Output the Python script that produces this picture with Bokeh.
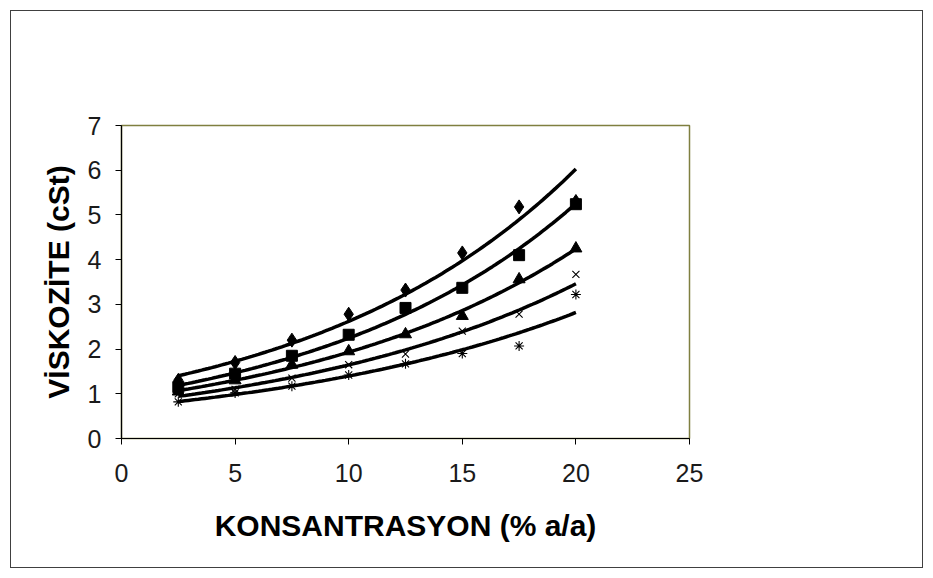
import numpy as np
from bokeh.plotting import figure
from bokeh.models import Range1d, FixedTicker, ColumnDataSource
from bokeh.embed import file_html
from bokeh.resources import INLINE

# Concentration (% a/a) and measured viscosities (cSt) for five series
konsantrasyon = [2.5, 5, 7.5, 10, 12.5, 15, 17.5, 20]
seri_1 = [1.30, 1.70, 2.20, 2.78, 3.32, 4.15, 5.18, 5.30]
seri_2 = [1.15, 1.45, 1.85, 2.32, 2.92, 3.37, 4.10, 5.24]
seri_3 = [1.05, 1.30, 1.65, 1.95, 2.33, 2.74, 3.56, 4.25]
seri_4 = [1.00, 1.10, 1.35, 1.65, 1.89, 2.40, 2.78, 3.67]
seri_5 = [0.82, 1.02, 1.17, 1.42, 1.67, 1.90, 2.07, 3.22]

x_ticks = [0, 5, 10, 15, 20, 25]
y_ticks = [0, 1, 2, 3, 4, 5, 6, 7]

# The figure sits inside a 1px bordered box, inset 10px from the page edge
p = figure(
    frame_width=568, frame_height=313,
    min_border_left=110, min_border_right=233,
    min_border_top=114, min_border_bottom=129,
    x_range=Range1d(0, 25), y_range=Range1d(0, 7),
    output_backend="svg", toolbar_location=None,
    background_fill_color="white", border_fill_color="white",
)
p.margin = (10, 10, 10, 10)
p.styles = {"border": "1px solid #404040"}
p.grid.visible = False
p.outline_line_color = "#7f7f40"
p.outline_line_width = 1.5

label_font = "'Liberation Sans Narrow', 'Liberation Sans', Arial"
for ax, ticks in ((p.xaxis[0], x_ticks), (p.yaxis[0], y_ticks)):
    ax.ticker = FixedTicker(ticks=ticks)
    ax.minor_tick_line_color = None
    ax.major_tick_in = 0
    ax.major_tick_out = 6
    ax.axis_line_color = "black"
    ax.axis_line_width = 1.2
    ax.major_tick_line_color = "black"
    ax.major_label_text_font = label_font
    ax.major_label_text_font_size = "25px"
    ax.major_label_text_color = "#1a1a1a"
    ax.axis_label_text_font = "Liberation Sans"
    ax.axis_label_text_font_style = "bold"
    ax.axis_label_text_font_size = "30px"
    ax.axis_label_text_color = "black"

p.xaxis.axis_label = "KONSANTRASYON (% a/a)"
p.yaxis.axis_label = "VİSKOZİTE (cSt)"
p.xaxis.major_label_standoff = 19
p.yaxis.major_label_standoff = 14
p.xaxis.axis_label_standoff = 24
p.yaxis.axis_label_standoff = 10

series = [
    (seri_1, "diamond", 14),
    (seri_2, "square", 11),
    (seri_3, "triangle", 12),
    (seri_4, "x", 10),
    (seri_5, "asterisk", 10),
]

# markers
for ys, marker, size in series:
    src = ColumnDataSource(dict(x=konsantrasyon, y=ys))
    filled = marker in ("diamond", "square", "triangle")
    p.scatter("x", "y", source=src, marker=marker, size=size,
              fill_color="black" if filled else None,
              line_color="black", line_width=1 if filled else 1.1)

# exponential trend lines fitted to each series (y = a * exp(b x))
xs = np.array(konsantrasyon, dtype=float)
grid = np.linspace(xs.min(), xs.max(), 120)
for ys, _, _ in series:
    b, ln_a = np.polyfit(xs, np.log(np.array(ys, dtype=float)), 1)
    p.line(grid, np.exp(ln_a + b * grid), line_color="black", line_width=3.5)

open("out.html", "w").write(file_html(p, INLINE))
